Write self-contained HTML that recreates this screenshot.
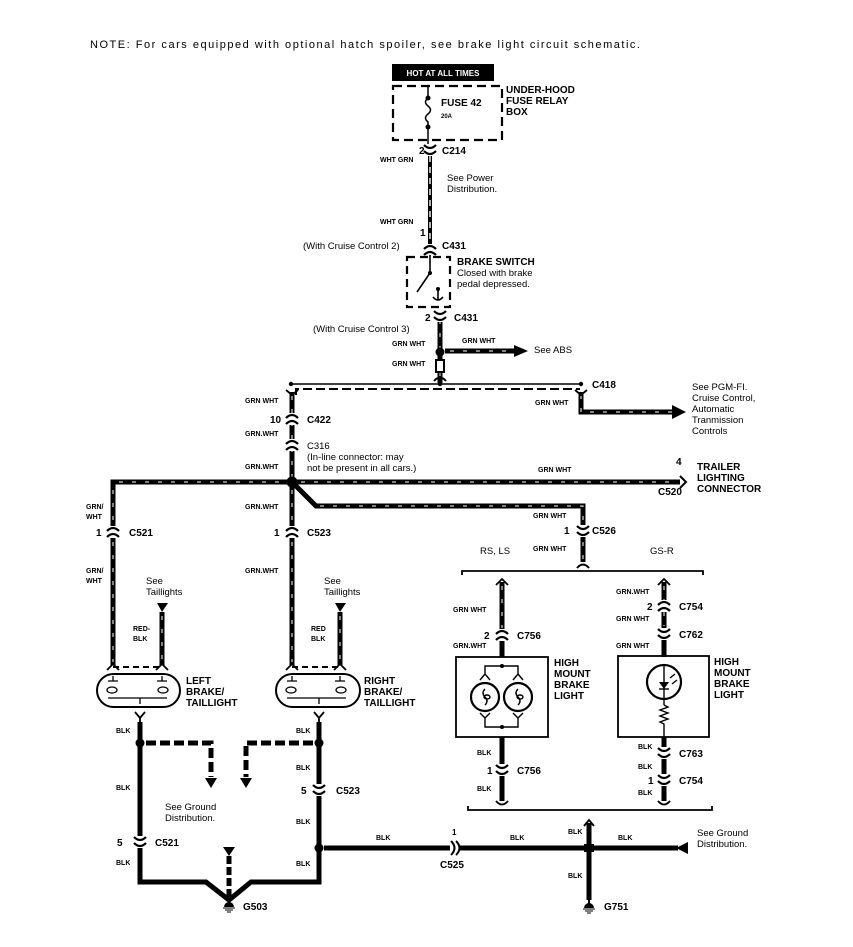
<!DOCTYPE html>
<html><head><meta charset="utf-8"><style>
html,body{margin:0;padding:0;background:#fff;width:853px;height:947px;overflow:hidden}
svg{display:block}
text{font-family:"Liberation Sans",sans-serif;fill:#000}
.s{font-size:7px;font-weight:bold}
.c{font-size:10px;font-weight:bold}
.t{font-size:9.5px}
.b{font-size:10px;font-weight:bold}
.w{stroke:#fff;stroke-width:1;stroke-dasharray:4 9}
</style></head><body>
<svg width="853" height="947" viewBox="0 0 853 947" xmlns="http://www.w3.org/2000/svg">
<defs>
<g id="cn"><rect x="-5" y="-6" width="10" height="12" fill="#fff"/><path d="M-6,-1 Q0,-7 6,-1 M-6,5 Q0,-1 6,5" stroke="#000" stroke-width="2.2" fill="none"/></g>
<g id="cd"><rect x="-5" y="-6" width="10" height="12" fill="#fff"/><path d="M-6,-5 Q0,1 6,-5 M-6,1 Q0,7 6,1" stroke="#000" stroke-width="2.2" fill="none"/></g>
<g id="yt"><path d="M-5,-6 L0,0 L5,-6 M0,0 V4" stroke="#000" stroke-width="1.8" fill="none"/></g>
<g id="gnd"><path d="M0,-6 V0" stroke="#000" stroke-width="2"/><path d="M-5,2 A5,5 0 0 1 5,2 Z" fill="#000"/><path d="M-6,3 H6 M-4,5 H4 M-2,7 H2" stroke="#000" stroke-width="1"/></g>
</defs>

<text x="90" y="48" style="font-size:11px" textLength="550" lengthAdjust="spacing">NOTE:  For cars equipped with optional hatch spoiler, see  brake light circuit schematic.</text>

<!-- fuse box -->
<rect x="392" y="64" width="102" height="17" fill="#000"/>
<text x="443" y="76" text-anchor="middle" style="font-size:8px;font-weight:bold;fill:#fff">HOT AT ALL TIMES</text>
<rect x="393" y="86" width="109" height="54" fill="none" stroke="#000" stroke-width="2.2" stroke-dasharray="9 5"/>
<line x1="428" y1="86" x2="428" y2="98" stroke="#000" stroke-width="1.5"/>
<circle cx="428" cy="98" r="2.5"/><circle cx="428" cy="127" r="2.5"/>
<path d="M428,98 q-5,4 0,8 q5,4 0,8 q-5,4 0,8 l0,5" stroke="#000" stroke-width="1.5" fill="none"/>
<line x1="428" y1="127" x2="428" y2="144" stroke="#000" stroke-width="1.5"/>
<text x="441" y="106" class="b">FUSE 42</text>
<text x="441" y="118" style="font-size:6px;font-weight:bold">20A</text>
<text x="506" y="93" class="b">UNDER-HOOD</text>
<text x="506" y="104" class="b">FUSE RELAY</text>
<text x="506" y="115" class="b">BOX</text>

<!-- WHT GRN wire -->
<line x1="430" y1="145" x2="430" y2="250" stroke="#000" stroke-width="4"/>
<line x1="430" y1="145" x2="430" y2="250" stroke="#fff" stroke-width="1.4" stroke-dasharray="6 5"/>
<use href="#cd" x="430" y="150"/>
<text x="419" y="154" class="c">2</text><text x="442" y="154" class="c">C214</text>
<text x="380" y="162" class="s">WHT GRN</text>
<text x="447" y="181" class="t">See Power</text><text x="447" y="192" class="t">Distribution.</text>
<text x="380" y="224" class="s">WHT GRN</text>
<text x="420" y="236" class="c">1</text>
<text x="303" y="249" class="t">(With Cruise Control 2)</text>
<text x="442" y="249" class="c">C431</text>
<use href="#cn" x="430" y="250"/>

<!-- brake switch -->
<rect x="407" y="257" width="43" height="50" fill="none" stroke="#000" stroke-width="2.2" stroke-dasharray="8 5"/>
<path d="M430,255 V273 L417,292" stroke="#000" stroke-width="1.6" fill="none"/>
<circle cx="430" cy="273" r="2"/><circle cx="438" cy="289" r="2"/>
<path d="M438,289 V300 M433,297 Q438,303 443,297" stroke="#000" stroke-width="1.6" fill="none"/>
<text x="457" y="265" class="b">BRAKE SWITCH</text>
<text x="457" y="276" class="t">Closed with brake</text>
<text x="457" y="287" class="t">pedal depressed.</text>

<line x1="440" y1="310" x2="440" y2="383" stroke="#000" stroke-width="5"/>
<line x1="440" y1="320" x2="440" y2="380" class="w"/>
<use href="#cd" x="440" y="316"/>
<text x="425" y="321" class="c">2</text><text x="454" y="321" class="c">C431</text>
<text x="313" y="332" class="t">(With Cruise Control 3)</text>
<text x="392" y="346" class="s">GRN WHT</text>
<circle cx="440" cy="352" r="4.5"/>
<line x1="445" y1="351" x2="516" y2="351" stroke="#000" stroke-width="5"/>
<line x1="450" y1="351" x2="514" y2="351" class="w"/>
<path d="M514,345 L528,351 L514,357 Z"/>
<text x="462" y="343" class="s">GRN WHT</text>
<text x="534" y="353" class="t">See ABS</text>
<text x="392" y="366" class="s">GRN WHT</text>
<rect x="436" y="360" width="8" height="12" fill="#fff" stroke="#000" stroke-width="2"/>
<path d="M434,381 Q440,374 446,381" stroke="#000" stroke-width="2" fill="none"/>

<!-- top bus -->
<line x1="291" y1="384" x2="582" y2="384" stroke="#000" stroke-width="1.4"/>
<circle cx="291" cy="384" r="2.2"/><circle cx="440" cy="384" r="2.2"/><circle cx="581" cy="384" r="2.2"/>
<path d="M296,395 V389 H580" stroke="#000" stroke-width="2" fill="none" stroke-dasharray="9 4"/>
<text x="592" y="388" class="c">C418</text>
<path d="M581,392 V412 H675" stroke="#000" stroke-width="5" fill="none"/>
<path d="M581,395 V412 H675" fill="none" class="w"/>
<path d="M672,405 L686,412 L672,419 Z"/>
<path d="M575,390 L581,395 L587,390" stroke="#000" stroke-width="1.8" fill="none"/>
<text x="535" y="405" class="s">GRN WHT</text>
<text x="692" y="390" class="t">See PGM-FI.</text>
<text x="692" y="401" class="t">Cruise Control,</text>
<text x="692" y="412" class="t">Automatic</text>
<text x="692" y="423" class="t">Tranmission</text>
<text x="692" y="434" class="t">Controls</text>

<!-- main vertical -->
<line x1="292" y1="392" x2="292" y2="482" stroke="#000" stroke-width="5"/>
<line x1="292" y1="396" x2="292" y2="478" class="w"/>
<path d="M286,390 L292,395 L298,390" stroke="#000" stroke-width="1.8" fill="none"/>
<text x="245" y="403" class="s">GRN WHT</text>
<use href="#cn" x="292" y="419"/>
<text x="270" y="423" class="c">10</text><text x="307" y="423" class="c">C422</text>
<text x="245" y="436" class="s">GRN.WHT</text>
<use href="#cn" x="292" y="445"/>
<text x="307" y="449" class="t">C316</text>
<text x="307" y="460" class="t">(In-line connector: may</text>
<text x="307" y="471" class="t">not be present in all cars.)</text>
<text x="245" y="469" class="s">GRN.WHT</text>

<!-- horizontal bus y482 -->
<path d="M113,530 V482 H680" stroke="#000" stroke-width="5" fill="none"/>
<path d="M113,528 V482 H678" fill="none" class="w"/>
<path d="M680,476 L686,482 L680,488" stroke="#000" stroke-width="2" fill="none"/>
<circle cx="292" cy="482" r="5.5"/>
<text x="538" y="472" class="s">GRN WHT</text>
<text x="676" y="465" class="c">4</text>
<text x="658" y="495" class="c">C520</text>
<text x="697" y="470" class="b">TRAILER</text>
<text x="697" y="481" class="b">LIGHTING</text>
<text x="697" y="492" class="b">CONNECTOR</text>

<!-- branch to high mount -->
<path d="M294,484 L316,506 H583 V562" stroke="#000" stroke-width="5" fill="none"/>
<path d="M320,506 H583 V560" fill="none" class="w"/>
<use href="#cd" x="583" y="531"/>
<path d="M577,568 Q583,561 589,568" stroke="#000" stroke-width="2" fill="none"/>
<text x="533" y="518" class="s">GRN WHT</text>
<text x="564" y="534" class="c">1</text><text x="592" y="534" class="c">C526</text>
<text x="533" y="551" class="s">GRN WHT</text>
<text x="480" y="554" class="t">RS, LS</text>
<text x="650" y="554" class="t">GS-R</text>
<path d="M462,575 V571 H703 V575" stroke="#000" stroke-width="1.8" fill="none"/>

<!-- left column -->
<line x1="113" y1="482" x2="113" y2="665" stroke="#000" stroke-width="5"/>
<line x1="113" y1="490" x2="113" y2="662" class="w"/>
<use href="#cn" x="113" y="532"/>
<text x="86" y="509" class="s">GRN/</text><text x="86" y="519" class="s">WHT</text>
<text x="96" y="536" class="c">1</text><text x="129" y="536" class="c">C521</text>
<text x="86" y="573" class="s">GRN/</text><text x="86" y="583" class="s">WHT</text>
<text x="146" y="584" class="t">See</text><text x="146" y="595" class="t">Taillights</text>
<path d="M157,603 H168 L162,612 Z"/>
<line x1="162" y1="612" x2="162" y2="665" stroke="#000" stroke-width="5"/>
<line x1="162" y1="616" x2="162" y2="662" class="w"/>
<text x="133" y="631" class="s">RED-</text><text x="133" y="641" class="s">BLK</text>
<path d="M107,670 L113,664 L119,670 M156,670 L162,664 L168,670" stroke="#000" stroke-width="1.8" fill="none"/>
<line x1="113" y1="667" x2="162" y2="667" stroke="#000" stroke-width="2" stroke-dasharray="6 4"/>

<!-- right column -->
<line x1="292" y1="486" x2="292" y2="665" stroke="#000" stroke-width="5"/>
<line x1="292" y1="490" x2="292" y2="662" class="w"/>
<use href="#cn" x="292" y="532"/>
<text x="245" y="509" class="s">GRN.WHT</text>
<text x="274" y="536" class="c">1</text><text x="307" y="536" class="c">C523</text>
<text x="245" y="573" class="s">GRN.WHT</text>
<text x="324" y="584" class="t">See</text><text x="324" y="595" class="t">Taillights</text>
<path d="M335,603 H346 L340,612 Z"/>
<line x1="340" y1="612" x2="340" y2="665" stroke="#000" stroke-width="5"/>
<line x1="340" y1="616" x2="340" y2="662" class="w"/>
<text x="311" y="631" class="s">RED</text><text x="311" y="641" class="s">BLK</text>
<path d="M286,670 L292,664 L298,670 M334,670 L340,664 L346,670" stroke="#000" stroke-width="1.8" fill="none"/>
<line x1="292" y1="667" x2="340" y2="667" stroke="#000" stroke-width="2" stroke-dasharray="6 4"/>

<!-- lamps -->
<g fill="none" stroke="#000" stroke-width="2">
<rect x="97" y="674" width="83" height="33" rx="16.5"/>
<rect x="276" y="674" width="84" height="33" rx="16.5"/>
</g>
<g fill="none" stroke="#000" stroke-width="1.3">
<path d="M113,676 v5 M108,681 h10 M162,676 v5 M157,681 h10"/>
<ellipse cx="112" cy="690" rx="5" ry="3"/><ellipse cx="163" cy="690" rx="5" ry="3"/>
<path d="M108,698 H167 M140,698 v6"/>
<path d="M292,676 v5 M287,681 h10 M340,676 v5 M335,681 h10"/>
<ellipse cx="291" cy="690" rx="5" ry="3"/><ellipse cx="341" cy="690" rx="5" ry="3"/>
<path d="M287,698 H346 M319,698 v6"/>
</g>
<text x="186" y="684" class="b">LEFT</text><text x="186" y="695" class="b">BRAKE/</text><text x="186" y="706" class="b">TAILLIGHT</text>
<text x="364" y="684" class="b">RIGHT</text><text x="364" y="695" class="b">BRAKE/</text><text x="364" y="706" class="b">TAILLIGHT</text>

<!-- bottom left black -->
<use href="#yt" x="140" y="718"/><use href="#yt" x="319" y="718"/>
<path d="M140,722 V882 H206 L229,900 L251,882 H319 V722" stroke="#000" stroke-width="5" fill="none"/>
<circle cx="140" cy="743" r="4.5"/><circle cx="319" cy="743" r="4.5"/>
<path d="M146,743 H211 V777" stroke="#000" stroke-width="5" fill="none" stroke-dasharray="10 4"/>
<path d="M313,743 H246 V777" stroke="#000" stroke-width="5" fill="none" stroke-dasharray="10 4"/>
<path d="M205,778 H217 L211,788 Z"/><path d="M240,778 H252 L246,788 Z"/>
<path d="M223,847 H235 L229,856 Z"/>
<line x1="229" y1="856" x2="229" y2="898" stroke="#000" stroke-width="5" stroke-dasharray="8 3"/>
<use href="#gnd" x="229" y="905"/>
<text x="243" y="910" class="c">G503</text>
<text x="165" y="810" class="t">See Ground</text><text x="165" y="821" class="t">Distribution.</text>
<text x="116" y="733" class="s">BLK</text><text x="116" y="790" class="s">BLK</text>
<use href="#cd" x="140" y="842"/>
<text x="117" y="846" class="c">5</text><text x="155" y="846" class="c">C521</text>
<text x="116" y="865" class="s">BLK</text>
<text x="296" y="733" class="s">BLK</text><text x="296" y="770" class="s">BLK</text>
<use href="#cd" x="319" y="790"/>
<text x="301" y="794" class="c">5</text><text x="336" y="794" class="c">C523</text>
<text x="296" y="824" class="s">BLK</text><text x="296" y="866" class="s">BLK</text>
<circle cx="319" cy="848" r="4.5"/>

<!-- bottom horizontal -->
<line x1="324" y1="848" x2="450" y2="848" stroke="#000" stroke-width="5"/>
<line x1="460" y1="848" x2="678" y2="848" stroke="#000" stroke-width="5"/>
<path d="M451,841 Q458,848 451,855 M456,841 Q463,848 456,855" stroke="#000" stroke-width="2" fill="none"/>
<path d="M676,848 L688,842 V854 Z"/>
<circle cx="589" cy="848" r="4.5"/>
<rect x="584" y="844" width="10" height="8" fill="#000"/>
<text x="376" y="840" class="s">BLK</text>
<text x="452" y="835" class="c" style="font-size:8px">1</text>
<text x="440" y="868" class="c">C525</text>
<text x="510" y="840" class="s">BLK</text>
<text x="568" y="834" class="s">BLK</text>
<text x="618" y="840" class="s">BLK</text>
<text x="568" y="878" class="s">BLK</text>
<text x="697" y="836" class="t">See Ground</text><text x="697" y="847" class="t">Distribution.</text>
<path d="M589,823 V900" stroke="#000" stroke-width="5" fill="none"/>
<path d="M584,826 L589,820 L594,826" stroke="#000" stroke-width="1.8" fill="none"/>
<use href="#gnd" x="589" y="906"/>
<text x="604" y="910" class="c">G751</text>
<path d="M468,806 V810 H712 V806" stroke="#000" stroke-width="1.8" fill="none"/>

<!-- high mount left (RS, LS) -->
<path d="M496,585 L502,579 L508,585" stroke="#000" stroke-width="1.8" fill="none"/>
<line x1="502" y1="582" x2="502" y2="657" stroke="#000" stroke-width="5"/>
<line x1="502" y1="586" x2="502" y2="628" class="w"/>
<use href="#cn" x="502" y="635"/>
<text x="453" y="612" class="s">GRN WHT</text>
<text x="484" y="639" class="c">2</text><text x="517" y="639" class="c">C756</text>
<text x="453" y="648" class="s">GRN.WHT</text>
<rect x="456" y="657" width="92" height="80" fill="none" stroke="#000" stroke-width="1.8"/>
<g fill="none" stroke="#000" stroke-width="1.4">
<path d="M485,674 V666 H518 V674 M480,680 L485,674 L490,680 M513,680 L518,674 L523,680"/>
<circle cx="485" cy="697" r="14" stroke-width="2.2"/><circle cx="518" cy="697" r="14" stroke-width="2.2"/>
<path d="M485,689 q-4,4 0,8 q4,4 0,8 M518,689 q-4,4 0,8 q4,4 0,8"/>
<ellipse cx="487" cy="697" rx="3" ry="2"/><ellipse cx="520" cy="697" rx="3" ry="2"/>
<path d="M480,713 L485,718 L490,713 M513,713 L518,718 L523,713 M485,718 V727 H518 V718"/>
</g>
<circle cx="502" cy="666" r="2"/><circle cx="502" cy="727" r="2"/>
<text x="554" y="666" class="b">HIGH</text><text x="554" y="677" class="b">MOUNT</text><text x="554" y="688" class="b">BRAKE</text><text x="554" y="699" class="b">LIGHT</text>
<line x1="502" y1="737" x2="502" y2="801" stroke="#000" stroke-width="5"/>
<use href="#cd" x="502" y="770"/>
<path d="M496,801 Q502,808 508,801" stroke="#000" stroke-width="1.8" fill="none"/>
<text x="477" y="755" class="s">BLK</text>
<text x="487" y="774" class="c">1</text><text x="517" y="774" class="c">C756</text>
<text x="477" y="791" class="s">BLK</text>

<!-- high mount right (GS-R) -->
<path d="M658,585 L664,579 L670,585" stroke="#000" stroke-width="1.8" fill="none"/>
<line x1="664" y1="582" x2="664" y2="657" stroke="#000" stroke-width="5"/>
<line x1="664" y1="586" x2="664" y2="626" class="w"/>
<use href="#cn" x="664" y="606"/>
<use href="#cd" x="664" y="634"/>
<text x="616" y="594" class="s">GRN.WHT</text>
<text x="647" y="610" class="c">2</text><text x="679" y="610" class="c">C754</text>
<text x="616" y="621" class="s">GRN WHT</text>
<text x="679" y="638" class="c">C762</text>
<text x="616" y="648" class="s">GRN WHT</text>
<rect x="618" y="656" width="91" height="81" fill="none" stroke="#000" stroke-width="1.8"/>
<circle cx="664" cy="682" r="17" fill="none" stroke="#000" stroke-width="2.2"/>
<line x1="664" y1="665" x2="664" y2="705" stroke="#000" stroke-width="1.4"/>
<path d="M659,682 H669 L664,689 Z"/><path d="M659,689 H669" stroke="#000" stroke-width="1.4"/>
<path d="M670,678 l5,-4 M672,684 l5,-4" stroke="#000" stroke-width="1.4"/>
<path d="M664,705 l4,2 l-8,3 l8,3 l-8,3 l8,3 l-8,3 l4,2 V737" stroke="#000" stroke-width="1.4" fill="none"/>
<text x="714" y="665" class="b">HIGH</text><text x="714" y="676" class="b">MOUNT</text><text x="714" y="687" class="b">BRAKE</text><text x="714" y="698" class="b">LIGHT</text>
<line x1="664" y1="737" x2="664" y2="801" stroke="#000" stroke-width="5"/>
<use href="#cd" x="664" y="753"/>
<use href="#cd" x="664" y="780"/>
<path d="M658,801 Q664,808 670,801" stroke="#000" stroke-width="1.8" fill="none"/>
<text x="638" y="749" class="s">BLK</text>
<text x="679" y="757" class="c">C763</text>
<text x="638" y="769" class="s">BLK</text>
<text x="648" y="784" class="c">1</text><text x="679" y="784" class="c">C754</text>
<text x="638" y="795" class="s">BLK</text>
</svg>
</body></html>
